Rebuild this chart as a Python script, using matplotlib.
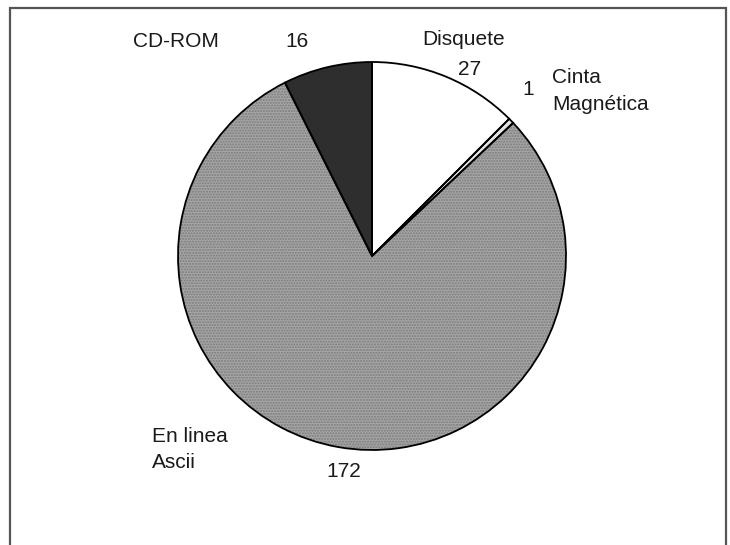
import matplotlib.pyplot as plt
from matplotlib.patches import Rectangle

plt.rcParams['font.family'] = ['Liberation Sans', 'DejaVu Sans']

# Datos
categorias = ["Disquete", "Cinta\nMagnética", "En linea\nAscii", "CD-ROM"]
valores = [27, 1, 172, 16]
colores = ["white", "#e4e4e4", "#a6a6a6", "#2e2e2e"]

H = 545
fig = plt.figure(figsize=(7.3, 5.45), dpi=100)
ax = fig.add_axes([0, 0, 1, 1])

centro = (372, H - 256)
wedges, _ = ax.pie(valores, colors=colores, startangle=90, counterclock=False,
                   center=centro, radius=194,
                   wedgeprops=dict(edgecolor="none", linewidth=0))
# textura punteada para "En linea Ascii"
wedges[2].set_hatch("......")
wedges[2].set_edgecolor("#7a7a7a")
wedges[2].set_linewidth(0)
# contornos negros
ax.pie(valores, startangle=90, counterclock=False, center=centro, radius=194,
       wedgeprops=dict(fill=False, edgecolor="black", linewidth=1.3))

ax.set_xlim(0, 730)
ax.set_ylim(0, H)
ax.set_aspect("equal")
ax.axis("off")

# marco
ax.add_patch(Rectangle((10, -5), 716, H - 8 + 5, fill=False,
                       edgecolor="#555555", linewidth=1.6))

fs = 15
def texto(x, y, s, ha="left"):
    ax.text(x, H - y, s, ha=ha, va="baseline", fontsize=fs, color="#1a1a1a")

# etiquetas
texto(464, 45, categorias[0], ha="center")
texto(470, 75, str(valores[0]), ha="center")
c1 = categorias[1].split("\n")
texto(552, 83, c1[0])
texto(552, 110, c1[1])
texto(528, 95, str(valores[1]), ha="center")
c2 = categorias[2].split("\n")
texto(152, 442, c2[0])
texto(152, 468, c2[1])
texto(344, 477, str(valores[2]), ha="center")
texto(133, 47, categorias[3])
texto(297, 47, str(valores[3]), ha="center")

fig.savefig("out.png", dpi=100)
